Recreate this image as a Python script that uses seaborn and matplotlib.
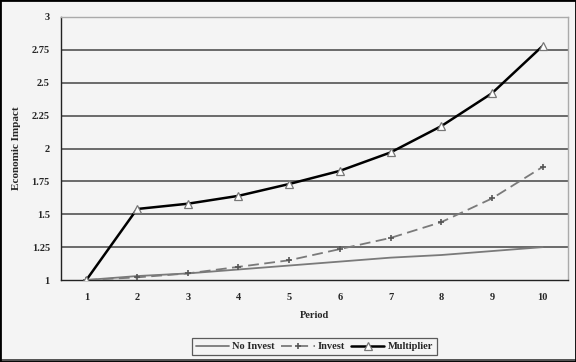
import matplotlib
matplotlib.use("Agg")
import matplotlib.pyplot as plt
import seaborn as sns
import pandas as pd
from matplotlib.ticker import FixedLocator
from matplotlib.patches import Rectangle

periods = [1, 2, 3, 4, 5, 6, 7, 8, 9, 10]
no_invest = [1.00, 1.03, 1.05, 1.08, 1.11, 1.14, 1.17, 1.19, 1.22, 1.25]
invest = [1.00, 1.02, 1.05, 1.10, 1.15, 1.235, 1.32, 1.44, 1.62, 1.86]
multiplier = [1.00, 1.54, 1.58, 1.64, 1.73, 1.83, 1.97, 2.17, 2.42, 2.78]
y_ticks = [1, 1.25, 1.5, 1.75, 2, 2.25, 2.5, 2.75, 3]
y_labels = ["1", "1.25", "1.5", "1.75", "2", "2.25", "2.5", "2.75", "3"]

sns.set_style("white")
plt.rcParams['font.family'] = ['Liberation Serif', 'DejaVu Serif']
plt.rcParams['font.weight'] = 'bold'

fig = plt.figure(figsize=(5.76, 3.62), dpi=100)
fig.patch.set_facecolor("#f4f4f4")
ax = fig.add_axes([61/576, 1-280/362, (568-61)/576, (280-17)/362])
ax.set_facecolor("#f4f4f4")

df = pd.DataFrame({"Period": periods, "No Invest": no_invest,
                   "Invest": invest, "Multiplier": multiplier})

for y in y_ticks[1:]:
    ax.axhline(y, color="#444444", lw=1.1, zorder=1)

sns.lineplot(data=df, x="Period", y="No Invest", ax=ax, color="#7a7a7a", lw=1.3,
             label="No Invest", zorder=3)
sns.lineplot(data=df, x="Period", y="Invest", ax=ax, color="#7a7a7a", lw=1.3,
             linestyle=(0, (6, 3)), marker="+", markersize=4, markeredgewidth=1.2,
             markeredgecolor="#555555", label="Invest", zorder=3)
sns.lineplot(data=df, x="Period", y="Multiplier", ax=ax, color="black", lw=1.8,
             marker="^", markersize=6, markerfacecolor="white",
             markeredgecolor="#777777", markeredgewidth=0.9,
             label="Multiplier", zorder=4)

ax.set_xlim(0.5, 10.5)
ax.set_ylim(1, 3)
ax.xaxis.set_major_locator(FixedLocator(periods))
ax.set_xticklabels([str(p) for p in periods], fontsize=7.5, fontweight="bold")
ax.xaxis.set_minor_locator(FixedLocator([p + 0.5 for p in range(0, 11)]))
ax.tick_params(axis="x", which="major", length=0, pad=9)
ax.tick_params(axis="x", which="minor", length=4, width=0.8, color="#333333",
               direction="inout")
ax.set_yticks(y_ticks)
ax.set_yticklabels(y_labels, fontsize=7.5, fontweight="bold")
ax.tick_params(axis="y", length=4, width=0.8, color="#333333", direction="out", pad=4)

ax.set_xlabel("Period", fontsize=7.5, fontweight="bold", labelpad=7)
ax.set_ylabel("Economic Impact", fontsize=8, fontweight="bold")
ax.yaxis.set_label_coords(-0.079, 0.5)

for s in ["left", "bottom"]:
    ax.spines[s].set_color("#222222")
    ax.spines[s].set_linewidth(1.0)
for s in ["right", "top"]:
    ax.spines[s].set_color("#aaaaaa")
    ax.spines[s].set_linewidth(1.0)

leg = ax.legend(loc="upper center", bbox_to_anchor=(0.5, -0.2), ncol=3,
                frameon=True, fancybox=False, handlelength=3.2,
                columnspacing=0.6, handletextpad=0.3, borderpad=0.4,
                prop={"family": "Liberation Serif", "weight": "bold", "size": 7.5})
leg.get_frame().set_edgecolor("#333333")
leg.get_frame().set_facecolor("#f4f4f4")
leg.get_frame().set_linewidth(0.9)

fig.patches.append(Rectangle((0, 0), 1, 3/362, transform=fig.transFigure,
                             facecolor="#555555", edgecolor="none"))
fig.patches.append(Rectangle((0, 0), 1, 1, transform=fig.transFigure, fill=False,
                             edgecolor="black", lw=2))

fig.savefig("out.png", dpi=100, facecolor=fig.get_facecolor())
